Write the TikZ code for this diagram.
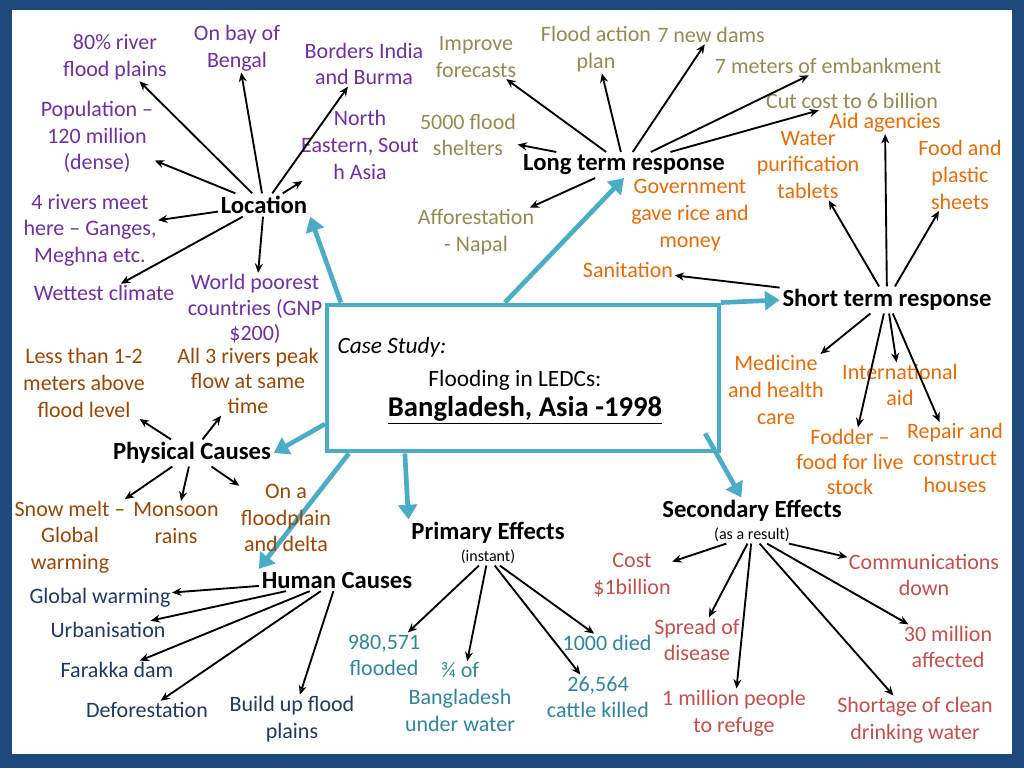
\documentclass[tikz,border=0pt]{standalone}
\usepackage{fontspec}
\setmainfont{Carlito}
\usetikzlibrary{arrows.meta}
\definecolor{frame}{HTML}{1F497D}
\definecolor{cyanb}{HTML}{4BACC6}
\definecolor{purp}{HTML}{7030A0}
\definecolor{olive}{HTML}{948A54}
\definecolor{orng}{HTML}{E46C0A}
\definecolor{brwn}{HTML}{984806}
\definecolor{navy}{HTML}{1F3864}
\definecolor{teal}{HTML}{31859C}
\definecolor{redd}{HTML}{C0504D}
\tikzset{
 t/.style={align=center,inner sep=1pt,font=\fontsize{16.5}{20}\selectfont},
 hub/.style={align=center,inner sep=2pt,font=\fontsize{18.5}{20}\selectfont\bfseries},
 arr/.style={-{Stealth[length=7pt,width=6pt]},line width=1.4pt,black},
 big/.style={-{Triangle[length=11pt,width=14pt]},line width=3.5pt,cyanb},
}
\begin{document}
\begin{tikzpicture}[x=0.75pt,y=-0.75pt]
\fill[frame] (0,0) rectangle (1024,768);
\fill[white] (12,10) rectangle (1012,754);
\useasboundingbox (0,0) rectangle (1024,768);
% center
\node[draw=cyanb,line width=3.2pt,minimum width=294pt,minimum height=110pt,inner sep=0pt] (cs) at (523,378) {};
\node[t,anchor=west,font=\fontsize{17.5}{20}\selectfont\itshape] (cst) at (336,347) {Case Study:};
\node[t,font=\fontsize{17.5}{20}\selectfont] (fl) at (515,380) {Flooding in LEDCs:};
\node[t,font=\fontsize{21.5}{24}\selectfont\bfseries] (bd) at (525,410) {\underline{Bangladesh, Asia -1998}};
% hubs
\node[hub] (loc) at (264,205) {Location};
\node[hub] (lt) at (624,165) {Long term response};
\node[hub] (st) at (887,300) {Short term response};
\node[hub] (pc) at (192,453) {Physical Causes};
\node[hub] (hc) at (337,580) {Human Causes};
\node[hub] (pe) at (488,533) {Primary Effects};
\node[t,font=\fontsize{12}{14}\selectfont] (pes) at (488,557) {(instant)};
\node[hub] (se) at (752,511) {Secondary Effects};
\node[t,font=\fontsize{12}{14}\selectfont] (ses) at (752,535) {(as a result)};
% big arrows
\draw[big] ([xshift=12]cs.north west) -- (loc.south east);
\draw[big] ([xshift=135]cs.north west) -- (lt.south);
\draw[big] (cs.north east) -- (st.west);
\draw[big] ([xshift=-12,yshift=15]cs.south east) -- ([xshift=-8]se.north);
\draw[big] ([xshift=60]cs.south west) -- (pe.north west);
\draw[big] ([xshift=18]cs.south west) -- (hc.north west);
\draw[big] ([yshift=22]cs.south west) -- (pc.east);
% location
\begin{scope}[every node/.append style={t,text=purp}]
\node (l1) at (115,57) {80\% river\\flood plains};
\node (l2) at (237,48) {On bay of\\Bengal};
\node (l3) at (364,64) {Borders India\\and Burma};
\node (l4) at (97,137) {Population –\\120 million\\(dense)};
\node (l5) at (360,145) {North\\Eastern, Sout\\h Asia};
\node (l6) at (90,230) {4 rivers meet\\here – Ganges,\\Meghna etc.};
\node (l7) at (104,293) {Wettest climate};
\node[font=\fontsize{16.5}{19}\selectfont] (l8) at (255,309) {World poorest\\countries (GNP\\\$200)};
\end{scope}
\foreach \n in {l1,l2,l3,l4,l5,l6,l7,l8} \draw[arr] (loc) -- (\n);
% long term
\begin{scope}[every node/.append style={t,text=olive}]
\node (a1) at (476,57) {Improve\\forecasts};
\node (a2) at (596,49) {Flood action\\plan};
\node (a3) at (711,35) {7 new dams};
\node (a4) at (828,66) {7 meters of embankment};
\node (a5) at (468,135) {5000 flood\\shelters};
\node (a6) at (852,101) {Cut cost to 6 billion};
\node (a7) at (476,232) {Afforestation\\- Napal};
\end{scope}
\foreach \n in {a1,a2,a3,a4,a5,a6,a7} \draw[arr] (lt) -- (\n);
% short term
\begin{scope}[every node/.append style={t,text=orng}]
\node (s1) at (808,165) {Water\\purification\\tablets};
\node (s2) at (885,123) {Aid agencies};
\node (s3) at (960,175) {Food and\\plastic\\sheets};
\node (s4) at (690,215) {Government\\gave rice and\\money};
\node (s5) at (628,270) {Sanitation};
\node (s6) at (776,390) {Medicine\\and health\\care};
\node (s7) at (900,385) {International\\aid};
\node[font=\fontsize{16.5}{19}\selectfont] (s8) at (850,462) {Fodder –\\food for live\\stock};
\node (s9) at (955,458) {Repair and\\construct\\houses};
\end{scope}
\foreach \n in {s1,s2,s3,s5,s6,s7,s8,s9} \draw[arr] (st) -- (\n);
% physical
\begin{scope}[every node/.append style={t,text=brwn}]
\node (p1) at (84,383) {Less than 1-2\\meters above\\flood level};
\node[font=\fontsize{16.5}{19}\selectfont] (p2) at (248,381) {All 3 rivers peak\\flow at same\\time};
\node (p3) at (70,537) {Snow melt –\\Global\\warming};
\node (p4) at (176,523) {Monsoon\\rains};
\node (p5) at (286,518) {On a\\floodplain\\and delta};
\end{scope}
\foreach \n in {p1,p2,p3,p4,p5} \draw[arr] (pc) -- (\n);
% human
\begin{scope}[every node/.append style={t,text=navy}]
\node (h1) at (100,598) {Global warming};
\node (h2) at (108,630) {Urbanisation};
\node (h3) at (117,670) {Farakka dam};
\node (h4) at (147,710) {Deforestation};
\node (h5) at (292,719) {Build up flood\\plains};
\end{scope}
\foreach \n in {h1,h2,h3,h4,h5} \draw[arr] (hc) -- (\n);
% primary
\begin{scope}[every node/.append style={t,text=teal}]
\node (e1) at (384,655) {980,571\\flooded};
\node (e2) at (460,697) {¾ of\\Bangladesh\\under water};
\node (e3) at (607,643) {1000 died};
\node (e4) at (598,697) {26,564\\cattle killed};
\end{scope}
\foreach \n in {e1,e2,e3,e4} \draw[arr] (pes) -- (\n);
% secondary
\begin{scope}[every node/.append style={t,text=redd}]
\node (r1) at (632,575) {Cost\\\$1billion};
\node (r2) at (924,575) {Communications\\down};
\node (r3) at (697,640) {Spread of\\disease};
\node (r4) at (948,647) {30 million\\affected};
\node (r5) at (734,713) {1 million people\\to refuge};
\node (r6) at (915,720) {Shortage of clean\\drinking water};
\end{scope}
\foreach \n in {r1,r2,r3,r4,r5,r6} \draw[arr] (ses) -- (\n);
\end{tikzpicture}
\end{document}
